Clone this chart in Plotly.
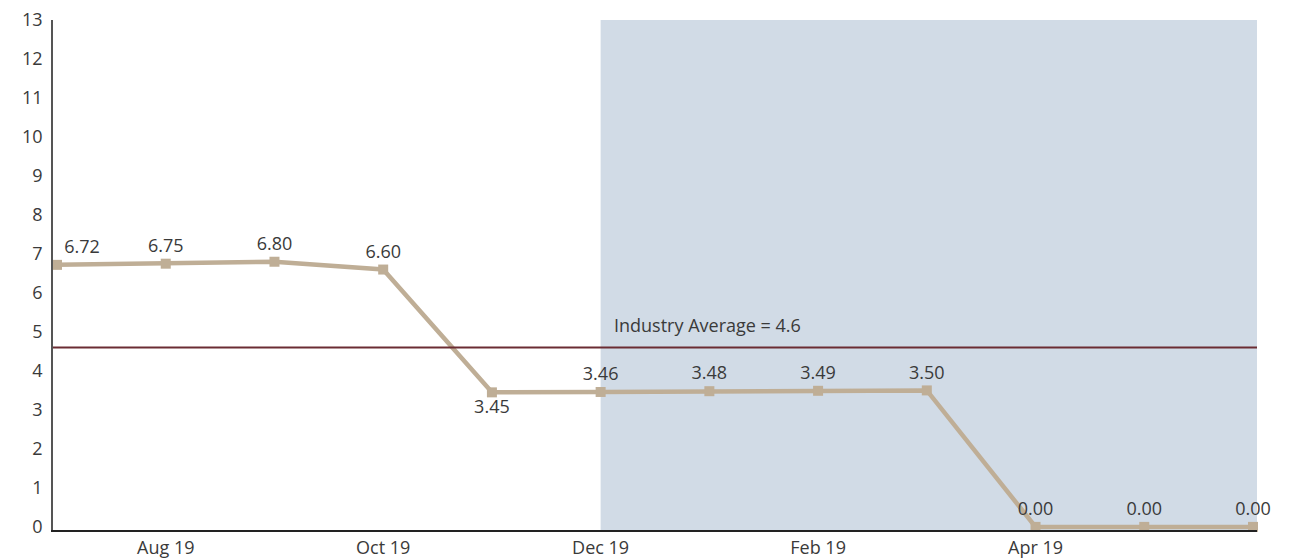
import plotly.graph_objects as go

months = ["Jul 19", "Aug 19", "Sep 19", "Oct 19", "Nov 19", "Dec 19",
          "Jan 20", "Feb 19", "Mar 19", "Apr 19", "May 19", "Jun 19"]
values = [6.72, 6.75, 6.80, 6.60, 3.45, 3.46, 3.48, 3.49, 3.50, 0.00, 0.00, 0.00]
label_pos = ["top right", "top center", "top center", "top center", "bottom center",
             "top center", "top center", "top center", "top center",
             "top center", "top center", "top center"]
tick_idx = [1, 3, 5, 7, 9]
tick_labels = ["Aug 19", "Oct 19", "Dec 19", "Feb 19", "Apr 19"]
industry_avg = 4.6
shade_start = 5

x = list(range(len(months)))
xr = [-0.037, len(months) - 1 + 0.037]
FONT = "Open Sans"
TXT = "#3a3a3a"
FS = 18

fig = go.Figure()
fig.add_shape(type="rect", xref="x", yref="paper", x0=shade_start, x1=xr[1],
              y0=0, y1=1, fillcolor="#d1dbe6", line=dict(width=0), layer="below")
fig.add_shape(type="line", xref="paper", yref="y", x0=0, x1=1,
              y0=industry_avg, y1=industry_avg, line=dict(color="#6b2c33", width=2))
fig.add_trace(go.Scatter(
    x=x, y=values, mode="lines+markers+text",
    line=dict(color="#bfae96", width=4.5),
    marker=dict(symbol="square", size=10, color="#bfae96"),
    text=[f"{v:.2f}" for v in values], textposition=label_pos,
    textfont=dict(family=FONT, size=FS, color=TXT),
    cliponaxis=False, hoverinfo="skip", showlegend=False))
fig.add_annotation(x=shade_start + 0.1, y=industry_avg, xref="x", yref="y",
                   text=f"Industry Average = {industry_avg}", showarrow=False,
                   xanchor="left", yanchor="bottom", yshift=9,
                   font=dict(family=FONT, size=FS, color=TXT))

fig.update_layout(
    width=1307, height=560, margin=dict(l=53, r=50, t=20, b=30),
    paper_bgcolor="white", plot_bgcolor="rgba(0,0,0,0)",
    font=dict(family=FONT, size=FS, color=TXT),
    xaxis=dict(range=xr, tickvals=tick_idx, ticktext=tick_labels, showgrid=False,
               zeroline=False, showline=True, linecolor="#222", linewidth=1.5,
               ticks="", ticklabelstandoff=1, automargin=False,
               tickfont=dict(size=FS, color=TXT)),
    yaxis=dict(range=[-0.08, 13], dtick=1, tick0=0, showgrid=False, zeroline=False,
               showline=True, linecolor="#555", linewidth=1.5, ticks="",
               ticklabelstandoff=5, automargin=False,
               tickfont=dict(size=FS, color=TXT)),
)
fig.write_html("out.html")
